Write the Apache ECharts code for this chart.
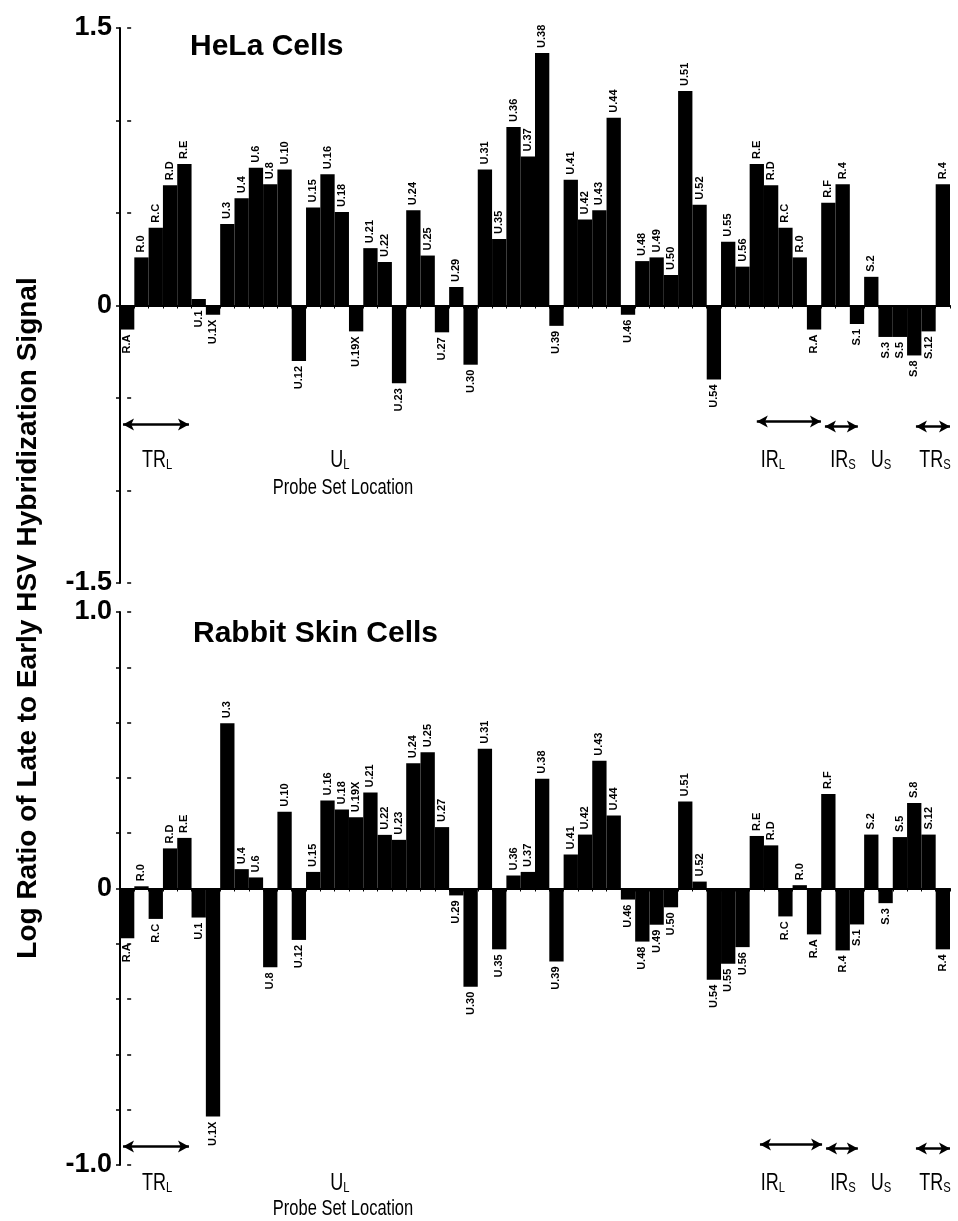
<!DOCTYPE html>
<html><head><meta charset="utf-8">
<script src="https://cdn.jsdelivr.net/npm/echarts@6/dist/echarts.min.js"></script>
<style>html,body{margin:0;padding:0;background:#fff}#c{width:958px;height:1221px}</style>
</head><body><div id="c"></div>
<script>
// ---------- data ----------
const categories = ['R.A','R.0','R.C','R.D','R.E','U.1','U.1X','U.3','U.4','U.6','U.8','U.10','U.12','U.15','U.16','U.18','U.19X','U.21','U.22','U.23','U.24','U.25','U.27','U.29','U.30','U.31','U.35','U.36','U.37','U.38','U.39','U.41','U.42','U.43','U.44','U.46','U.48','U.49','U.50','U.51','U.52','U.54','U.55','U.56','R.E','R.D','R.C','R.0','R.A','R.F','R.4','S.1','S.2','S.3','S.5','S.8','S.12','R.4'];
const helaValues = [-0.13,0.26,0.42,0.65,0.765,0.035,-0.05,0.44,0.58,0.745,0.655,0.735,-0.30,0.53,0.71,0.505,-0.14,0.31,0.235,-0.42,0.515,0.27,-0.145,0.10,-0.32,0.735,0.36,0.965,0.805,1.365,-0.11,0.68,0.465,0.515,1.015,-0.05,0.24,0.26,0.165,1.16,0.545,-0.40,0.345,0.21,0.765,0.65,0.42,0.26,-0.13,0.555,0.655,-0.10,0.155,-0.17,-0.17,-0.27,-0.14,0.655];
const rabbitValues = [-0.18,0.008,-0.11,0.145,0.183,-0.105,-0.825,0.598,0.07,0.04,-0.285,0.278,-0.186,0.06,0.318,0.286,0.258,0.347,0.194,0.176,0.453,0.493,0.222,-0.025,-0.355,0.505,-0.22,0.047,0.06,0.397,-0.264,0.123,0.195,0.462,0.264,-0.04,-0.192,-0.131,-0.068,0.315,0.025,-0.33,-0.272,-0.212,0.19,0.156,-0.101,0.012,-0.166,0.342,-0.224,-0.13,0.195,-0.053,0.186,0.309,0.195,-0.22];
const yTickLabelsTop = [1.5, 0, -1.5];
const yTickLabelsBottom = [1.0, 0, -1.0];
const panelTitles = ['HeLa Cells', 'Rabbit Skin Cells'];
const regionMain = ['TR','U','IR','IR','U','TR'];
const regionSub = ['L','L','L','S','S','S'];
const yAxisTitle = 'Log Ratio of Late to Early HSV Hybridization Signal';
const xAxisTitle = 'Probe Set Location';

// ---------- layout / style ----------
const FONT = '"Liberation Sans", Arial, Helvetica, sans-serif';
const gridsDef = [{left:120,right:8,top:28,height:555},{left:120,right:8,top:612,height:553}];
const yDef = [{min:-1.5,max:1.5,interval:0.5,labels:yTickLabelsTop},{min:-1,max:1,interval:0.2,labels:yTickLabelsBottom}];
const labelBelowOverride = [['U.1'], []];
// arrows: [x1, x2, y] in slot/value coords
const arrowLayout = [
  [[-0.29,4.32,-0.643],[44.0,48.48,-0.627],[48.76,51.06,-0.654],[55.12,57.5,-0.654]],
  [[-0.29,4.32,-0.933],[44.22,48.56,-0.926],[48.84,51.06,-0.94],[55.12,57.5,-0.94]]
];
const regionLabelX = [2.09,14.87,45.13,50.02,52.68,56.45];
const regionLabelY = [-0.83, -1.062];
const titlePos = [[190,47],[193,634]];
const xTitleY = [488, 1209];
const NARROW_SCALE = 0.75;

function tickFmt(labels){
  return function(v){
    for (const l of labels) if (Math.abs(v-l) < 1e-6) return l === 0 ? '0' : l.toFixed(1);
    return '';
  };
}

const grid = [], xAxis = [], yAxis = [], series = [];
[helaValues, rabbitValues].forEach((vals, p) => {
  grid.push(Object.assign({containLabel:false}, gridsDef[p]));
  const yd = yDef[p];
  xAxis.push({gridIndex:p, type:'category', data:categories,
    axisLine:{onZero:true, onZeroAxisIndex:2*p, lineStyle:{color:'#000', width:2}},
    axisTick:{show:true, interval:0, length:3, lineStyle:{color:'#000', width:1}},
    axisLabel:{show:false}, splitLine:{show:false}});
  xAxis.push({gridIndex:p, type:'value', min:-0.5, max:57.5, show:false});
  yAxis.push({gridIndex:p, type:'value', min:yd.min, max:yd.max, interval:yd.interval,
    axisLine:{show:true, onZero:false, lineStyle:{color:'#000', width:2}},
    axisTick:{show:true, length:4, lineStyle:{color:'#000', width:1.5}},
    axisLabel:{formatter:tickFmt(yd.labels), fontFamily:FONT, fontWeight:'bold', fontSize:27, color:'#000', margin:8},
    splitLine:{show:false}});
  yAxis.push({gridIndex:p, type:'value', min:yd.min, max:yd.max, interval:yd.interval, position:'left',
    axisLine:{show:false}, axisTick:{show:true, inside:true, length:4, lineStyle:{color:'#000', width:1.5}},
    axisLabel:{show:false}, splitLine:{show:false}});

  series.push({type:'bar', xAxisIndex:2*p, yAxisIndex:2*p, barCategoryGap:'0%',
    itemStyle:{color:'#000'},
    label:{show:true, rotate:90, formatter:'{b}', fontFamily:FONT, fontWeight:'bold', fontSize:11, color:'#000', distance:5},
    data: vals.map((v,i) => {
      const below = v < 0 || labelBelowOverride[p].includes(categories[i]);
      return {value:v, label: below ? {position:'bottom', align:'right', verticalAlign:'middle'}
                                    : {position:'top', align:'left', verticalAlign:'middle'}};
    })});

  const arrows = arrowLayout[p].map(a => [{coord:[a[0], a[2]]},{coord:[a[1], a[2]]}]);
  series.push({type:'scatter', xAxisIndex:2*p+1, yAxisIndex:2*p, clip:false, symbolSize:0, silent:true,
    data: regionMain.map((m,i) => [regionLabelX[i], regionLabelY[p]]),
    label:{show:false},
    markLine:{silent:true, symbol:['arrow','arrow'], symbolSize:[9,11], animation:false,
      label:{show:false}, lineStyle:{color:'#000', width:2.5, type:'solid'}, data:arrows}
  });
});

const chart = echarts.init(document.getElementById('c'), null, {renderer:'canvas'});
chart.setOption({animation:false, backgroundColor:'#fff', grid, xAxis, yAxis, series});

const graphic = [];
panelTitles.forEach((t,p) => {
  graphic.push({type:'text', x:titlePos[p][0], y:titlePos[p][1],
    style:{text:t, fill:'#000', font:'bold 30px ' + FONT, textAlign:'left', textVerticalAlign:'middle'}});
  graphic.push({type:'text', x:343, y:xTitleY[p], scaleX:NARROW_SCALE,
    style:{text:xAxisTitle, fill:'#000', font:'22px ' + FONT, textAlign:'center', textVerticalAlign:'middle'}});
  regionMain.forEach((m,i) => {
    const pt = chart.convertToPixel({xAxisIndex:2*p+1, yAxisIndex:2*p}, [regionLabelX[i], regionLabelY[p]]);
    graphic.push({type:'text', x:pt[0], y:pt[1], scaleX:NARROW_SCALE,
      style:{text:'{m|' + m + '}{s|' + regionSub[i] + '}', textAlign:'center', textVerticalAlign:'middle',
        rich:{ m:{fill:'#000', fontFamily:FONT, fontSize:24, verticalAlign:'bottom', lineHeight:26},
               s:{fill:'#000', fontFamily:FONT, fontSize:15, verticalAlign:'bottom', lineHeight:24} }}});
  });
});
graphic.push({type:'text', x:28, y:618, rotation:Math.PI/2,
  style:{text:yAxisTitle, fill:'#000', font:'bold 28px ' + FONT, textAlign:'center', textVerticalAlign:'middle'}});
chart.setOption({graphic});
</script></body></html>
